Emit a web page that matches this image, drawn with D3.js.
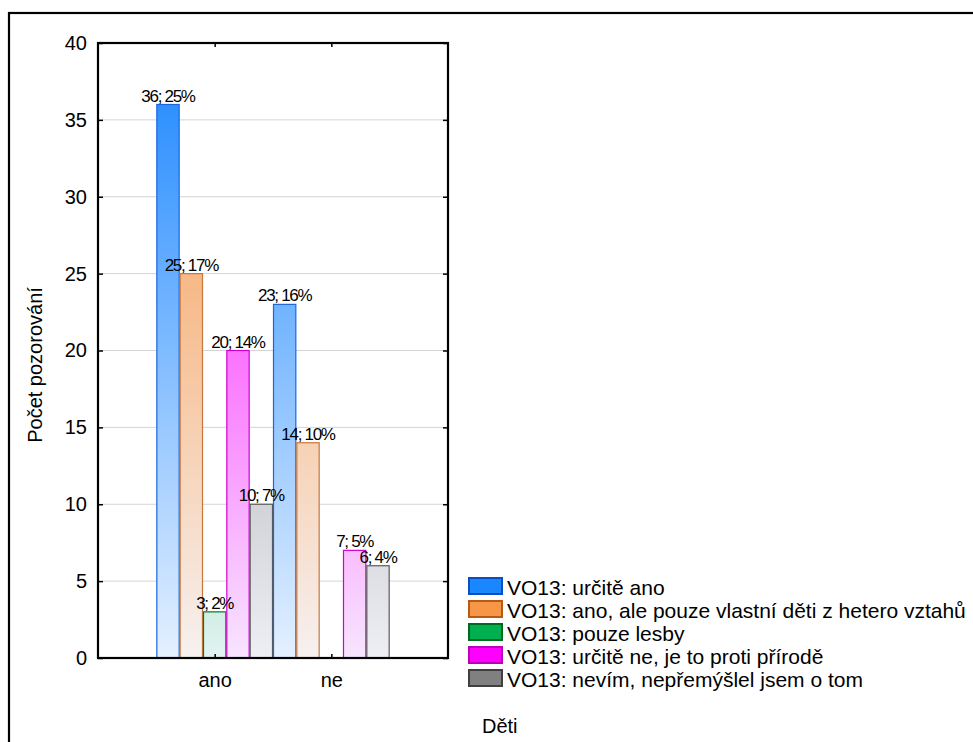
<!DOCTYPE html>
<html><head><meta charset="utf-8">
<script src="https://cdn.jsdelivr.net/npm/d3@7"></script>
<style>body{margin:0;background:#fff}svg{display:block;font-family:"Liberation Sans",Arial,sans-serif}</style>
</head><body><svg id="c" width="973" height="742"></svg>
<script>
const categories = ["ano", "ne"];
const seriesNames = [
  "VO13: určitě ano",
  "VO13: ano, ale pouze vlastní děti z hetero vztahů",
  "VO13: pouze lesby",
  "VO13: určitě ne, je to proti přírodě",
  "VO13: nevím, nepřemýšlel jsem o tom"
];
const countsAno = [36, 25, 3, 20, 10];
const countsNe = [23, 14, 0, 7, 6];
const pctAno = ["25%", "17%", "2%", "14%", "7%"];
const pctNe = ["16%", "10%", "", "5%", "4%"];
const yTicks = [0, 5, 10, 15, 20, 25, 30, 35, 40];
const baseColors = ["#1a86ff", "#f79646", "#00b050", "#ff00ff", "#808080"];
const strokeColors = ["#1a66e0", "#c8763a", "#007a20", "#d000d0", "#5a5a5a"];
const legendStroke = ["#0a4fc0", "#b85a14", "#006a1c", "#b800b8", "#404040"];

const svg = d3.select("#c");
const L = 98, R = 448, T = 43, B = 658;
const pw = R - L;

// outer frame
svg.append("rect").attr("x", 9).attr("y", 13).attr("width", 1100).attr("height", 1100)
  .attr("fill", "none").attr("stroke", "#000").attr("stroke-width", 2.2);

const y = d3.scaleLinear().domain([0, 40]).range([B, T]);
const x0 = d3.scaleBand().domain(categories).range([L + pw / 6, R - pw / 6]).padding(0);
const x1 = d3.scaleBand().domain(d3.range(5)).range([0, x0.bandwidth()]).padding(0);

const defs = svg.append("defs");
baseColors.forEach((c, i) => {
  const g = defs.append("linearGradient").attr("id", "g" + i)
    .attr("gradientUnits", "userSpaceOnUse").attr("x1", 0).attr("x2", 0).attr("y1", T).attr("y2", B);
  g.append("stop").attr("offset", 0).attr("stop-color", c);
  g.append("stop").attr("offset", 1).attr("stop-color", d3.interpolateRgb(c, "#f6f9ff")(0.92));
});

// grid
svg.append("g").selectAll("line").data(yTicks.filter(t => t > 0 && t < 40)).join("line")
  .attr("x1", L).attr("x2", R).attr("y1", d => y(d)).attr("y2", d => y(d))
  .attr("stroke", "#d4d4d4").attr("stroke-width", 1);

const rows = categories.map((c, ci) => ({
  cat: c,
  vals: ci === 0 ? countsAno : countsNe,
  pct: ci === 0 ? pctAno : pctNe
}));

const data = [];
rows.forEach(r => r.vals.forEach((v, i) => data.push({cat: r.cat, i, v, p: r.pct[i]})));

svg.append("g").selectAll("rect").data(data.filter(d => d.v > 0)).join("rect")
  .attr("x", d => x0(d.cat) + x1(d.i) + 0.5)
  .attr("y", d => y(d.v))
  .attr("width", x1.bandwidth() - 1)
  .attr("height", d => B - y(d.v))
  .attr("fill", d => `url(#g${d.i})`)
  .attr("stroke", d => strokeColors[d.i]).attr("stroke-width", 1.2);

svg.append("g").selectAll("text").data(data.filter(d => d.v > 0)).join("text")
  .attr("x", d => x0(d.cat) + x1(d.i) + x1.bandwidth() / 2)
  .attr("y", d => y(d.v) - 3)
  .attr("text-anchor", "middle")
  .attr("font-size", 17).attr("letter-spacing", -1.3)
  .text(d => `${d.v}; ${d.p}`);

// frame axes
const yAxis = d3.axisLeft(y).tickValues(yTicks).tickSize(-5).tickPadding(11);
const gy = svg.append("g").attr("transform", `translate(${L},0)`).call(yAxis);
gy.select(".domain").remove();
gy.selectAll("line").attr("stroke", "#000").attr("stroke-width", 1.5);
gy.selectAll("text").attr("font-size", 20).attr("font-family", "Liberation Sans, Arial, sans-serif").attr("fill", "#000");

const yAxisR = d3.axisRight(y).tickValues(yTicks).tickSize(-5).tickFormat("");
const gyr = svg.append("g").attr("transform", `translate(${R},0)`).call(yAxisR);
gyr.select(".domain").remove();
gyr.selectAll("line").attr("stroke", "#000").attr("stroke-width", 1.5);

const xPos = c => x0(c) + x0.bandwidth() / 2;
const gx = svg.append("g").attr("transform", `translate(0,${B})`)
  .call(d3.axisBottom(d3.scalePoint().domain(categories).range([xPos("ano"), xPos("ne")])).tickSize(-4).tickPadding(15));
gx.select(".domain").remove();
gx.selectAll("line").attr("stroke", "#000").attr("stroke-width", 1.5);
gx.selectAll("text").attr("font-size", 20).attr("font-family", "Liberation Sans, Arial, sans-serif").attr("fill", "#000");

const gxt = svg.append("g").attr("transform", `translate(0,${T})`)
  .call(d3.axisTop(d3.scalePoint().domain(categories).range([xPos("ano"), xPos("ne")])).tickSize(-4).tickFormat(""));
gxt.select(".domain").remove();
gxt.selectAll("line").attr("stroke", "#000").attr("stroke-width", 1.5);

svg.append("rect").attr("x", L).attr("y", T).attr("width", pw).attr("height", B - T)
  .attr("fill", "none").attr("stroke", "#000").attr("stroke-width", 2.2);

// y title
svg.append("text").attr("transform", `translate(42,365) rotate(-90)`)
  .attr("text-anchor", "middle").attr("font-size", 20).text("Počet pozorování");

// legend
const lg = svg.append("g");
seriesNames.forEach((n, i) => {
  const yy = 577 + i * 23;
  lg.append("rect").attr("x", 469).attr("y", yy + 1).attr("width", 33).attr("height", 16)
    .attr("fill", baseColors[i]).attr("stroke", legendStroke[i]).attr("stroke-width", 2);
  lg.append("text").attr("x", 507).attr("y", yy + 18).attr("font-size", 21).text(n);
});
lg.append("text").attr("x", 482).attr("y", 733).attr("font-size", 20).text("Děti");
</script></body></html>
